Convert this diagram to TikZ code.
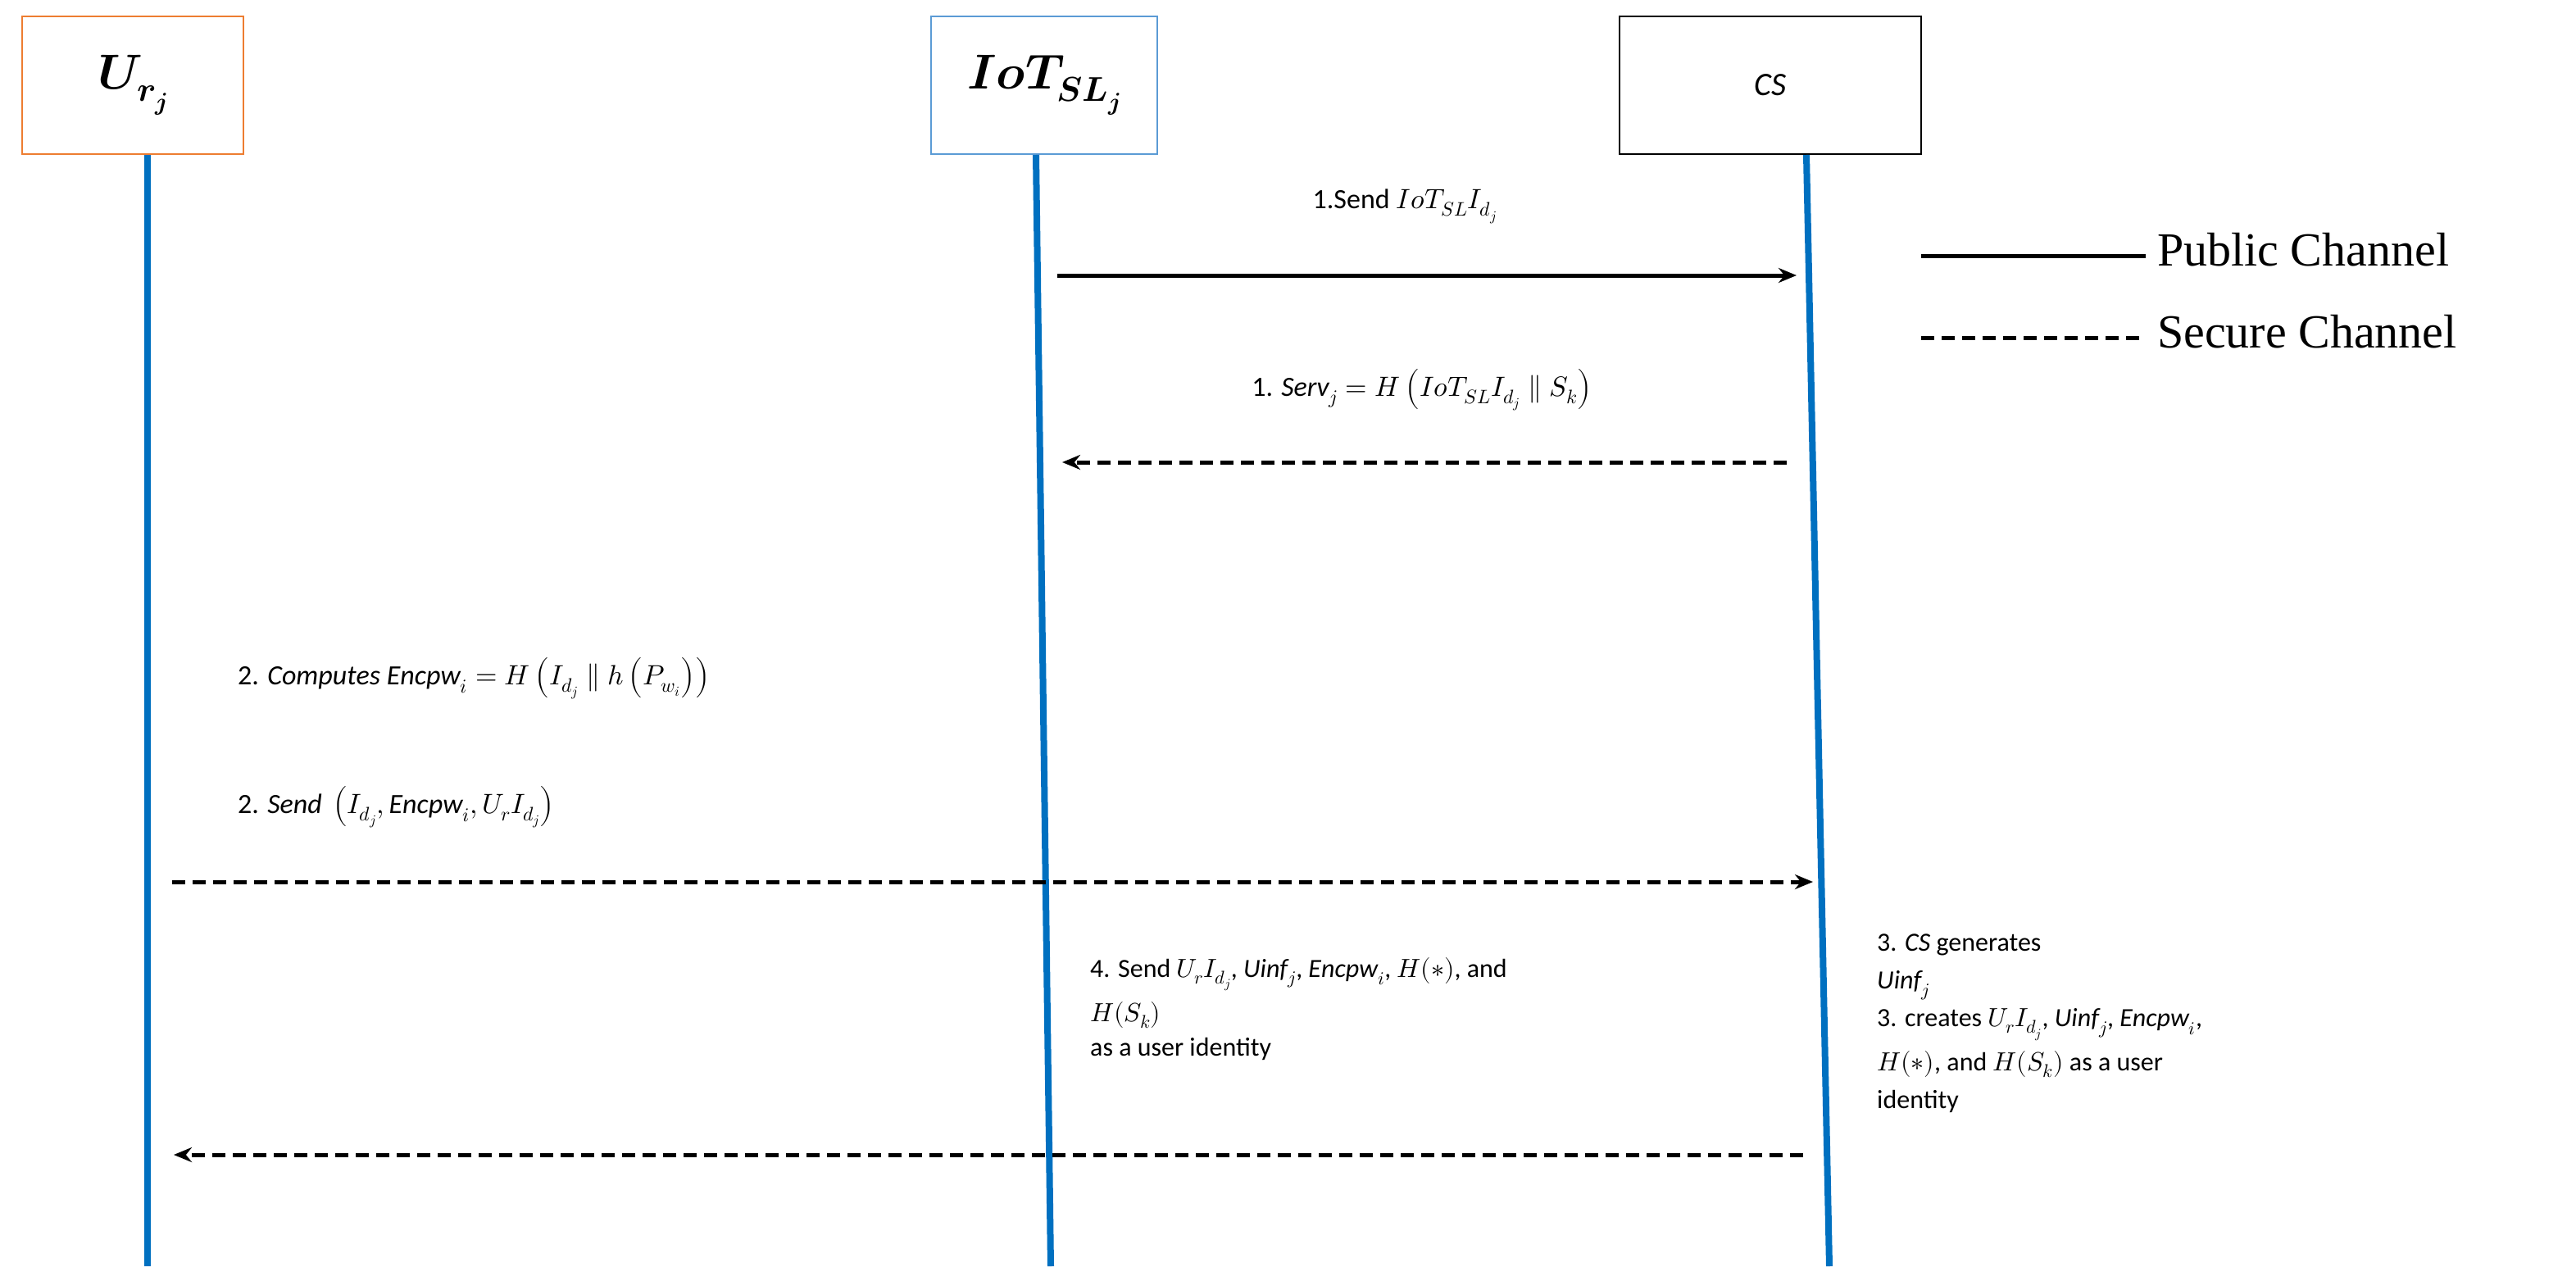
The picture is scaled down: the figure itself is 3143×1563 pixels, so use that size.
\documentclass[tikz,border=0pt]{standalone}
\usepackage{amsmath}
\usepackage{fontspec}
\usepackage{unicode-math}
\setmainfont{Carlito}
\setmathfont{Latin Modern Math}
\newfontfamily\legfont{Liberation Serif}
\usetikzlibrary{arrows.meta}
\definecolor{lblue}{RGB}{0,112,192}
\definecolor{lorange}{RGB}{237,125,49}
\definecolor{bblue}{RGB}{91,155,213}
\begin{document}
\begin{tikzpicture}[x=1pt,y=-1pt,
  actor/.style={draw,line width=2pt,minimum width=270pt,minimum height=168pt,font=\fontsize{60}{70}\selectfont},
  life/.style={lblue,line width=8pt},
  msg/.style={line width=5pt,-{Stealth[length=22pt,width=18pt]}},
  sec/.style={msg,dash pattern=on 16pt off 9pt},
  lbl/.style={font=\fontsize{34}{44}\selectfont,inner sep=0pt},
  leg/.style={font=\legfont\fontsize{58}{64}\selectfont,anchor=west,inner sep=0pt}]
\useasboundingbox (0,0) rectangle (3143,1563);
\node[actor,draw=lorange] (U) at (162,104) {$\mathbfit{U_{r_j}}$};
\node[actor,draw=bblue,minimum width=276pt] (I) at (1274,104) {$\mathbfit{IoT_{SL_j}}$};
\node[actor,draw=black,minimum width=368pt,font=\fontsize{40}{48}\selectfont] (C) at (2160,104) {$\mathit{CS}$};
\coordinate (Ub) at (180,1545); \coordinate (Ib) at (1282,1545); \coordinate (Cb) at (2232,1545);
\draw[life] (180,189) -- (Ub);
\draw[life] (1264,189) -- (Ib);
\draw[life] (2204,189) -- (Cb);
% legend
\coordinate (l1a) at (2344,312); \coordinate (l1b) at (2618,312);
\coordinate (l2a) at (2344,412); \coordinate (l2b) at (2618,412);
\draw[line width=5pt] (l1a) -- (l1b);
\draw[line width=5pt,dash pattern=on 16pt off 9pt] (l2a) -- (l2b);
\node[leg] (t1) at (2632,305) {Public Channel};
\node[leg] (t2) at (2632,405) {Secure Channel};
% messages
\coordinate (m1a) at (1290,336); \coordinate (m1b) at (2192,336);
\draw[msg] (m1a) -- (m1b);
\node[lbl] (L1) at (1714,252) {1.Send $IoT_{SL}I_{d_j}$};
\coordinate (m2a) at (2180,564); \coordinate (m2b) at (1296,564);
\draw[sec] (m2a) -- (m2b);
\node[lbl] (L2) at (1735,476) {1. $\mathit{Serv}_j = H\left(IoT_{SL}I_{d_j}\parallel S_k\right)$};
\node[lbl,anchor=west] (L3) at (290,828) {2. $\mathit{Computes}\ \mathit{Encpw}_i = H\left(I_{d_j}\parallel h\left(P_{w_i}\right)\right)$};
\node[lbl,anchor=west] (L4) at (290,985) {2. $\mathit{Send}\ \left(I_{d_j},\mathit{Encpw}_i,U_rI_{d_j}\right)$};
\coordinate (m3a) at (210,1076); \coordinate (m3b) at (2212,1076);
\draw[sec] (m3a) -- (m3b);
\node[lbl,anchor=north west,align=left,font=\fontsize{32}{54}\selectfont] (L5) at (1330,1168)
 {4. Send $U_rI_{d_j}$, $\mathit{Uinf}_j$, $\mathit{Encpw}_i$, $H(*)$, and\\ $H(S_k)$\\[-12pt] as a user identity};
\node[lbl,anchor=north west,align=left,font=\fontsize{32}{54}\selectfont] (L6) at (2290,1140)
 {3. $\mathit{CS}$ generates\\[-8pt] $\mathit{Uinf}_j$\\[-8pt] 3. creates $U_rI_{d_j}$, $\mathit{Uinf}_j$, $\mathit{Encpw}_i$,\\ $H(*)$, and $H(S_k)$ as a user\\[-8pt] identity};
\coordinate (m4a) at (2200,1409); \coordinate (m4b) at (212,1409);
\draw[sec] (m4a) -- (m4b);
\end{tikzpicture}
\end{document}
